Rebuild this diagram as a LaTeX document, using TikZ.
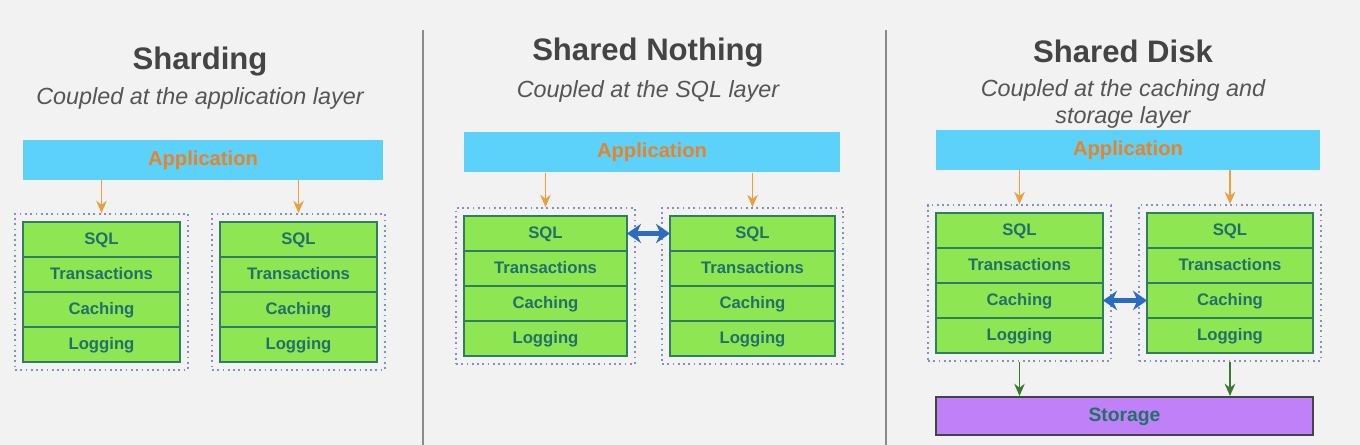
\documentclass[tikz,border=0pt]{standalone}
\usepackage{fontspec}
\setmainfont{Liberation Sans}
\usetikzlibrary{arrows.meta, positioning, fit}

\definecolor{bggray}{HTML}{F2F2F2}
\definecolor{titlegray}{HTML}{444444}
\definecolor{subgray}{HTML}{555555}
\definecolor{appblue}{HTML}{5CD1FA}
\definecolor{apporange}{HTML}{E8832A}
\definecolor{arroworange}{HTML}{E8A040}
\definecolor{layergreen}{HTML}{8FE653}
\definecolor{layerline}{HTML}{2F7D63}
\definecolor{layertext}{HTML}{22706A}
\definecolor{boxblue}{HTML}{8090C8}
\definecolor{linkblue}{HTML}{2B6CC0}
\definecolor{diskgreen}{HTML}{3A7A30}
\definecolor{storepurple}{HTML}{BF80F8}
\definecolor{sepgray}{HTML}{8A8A8A}

\tikzset{
  title/.style={font=\bfseries\fontsize{17.7}{20}\selectfont, text=titlegray},
  subtitle/.style={font=\itshape\fontsize{13.3}{15.3}\selectfont, text=subgray,
                   align=center},
  appbar/.style={fill=appblue, minimum height=0.8cm, inner sep=0pt,
                 text height=1.6ex, text depth=0.5ex,
                 font=\bfseries\fontsize{11.5}{13}\selectfont, text=apporange},
  layer/.style={draw=layerline, fill=layergreen, line width=1.1pt,
                minimum height=0.7cm, inner sep=0pt, outer sep=0pt,
                text height=1.6ex, text depth=0.5ex,
                font=\bfseries\fontsize{9.5}{11}\selectfont, text=layertext},
  nodebox/.style={draw=boxblue, line width=1pt, dash pattern=on 1pt off 2pt,
                  inner sep=0.16cm},
  appflow/.style={draw=arroworange, line width=1.1pt,
                  -{Stealth[length=7pt, width=6pt]}},
  diskflow/.style={draw=diskgreen, line width=1.1pt,
                   -{Stealth[length=7pt, width=6pt]}},
  coupling/.style={draw=linkblue, line width=2.5pt,
                   {Stealth[length=8pt, width=11pt]}-{Stealth[length=8pt, width=11pt]}},
  storebar/.style={draw=titlegray, fill=storepurple, line width=1.1pt,
                   minimum height=0.76cm, inner sep=0pt,
                   text height=1.6ex, text depth=0.5ex,
                   font=\bfseries\fontsize{11}{13}\selectfont, text=layertext}
}

% one database node: four layers and a dotted frame
\newcommand{\dbstack}[4]{%
  \node[layer, minimum width=#4, anchor=north] (#1-sql) at (#2,#3) {SQL};
  \node[layer, minimum width=#4, below=0pt of #1-sql] (#1-txn) {Transactions};
  \node[layer, minimum width=#4, below=0pt of #1-txn] (#1-cache) {Caching};
  \node[layer, minimum width=#4, below=0pt of #1-cache] (#1-log) {Logging};
  \node[nodebox, fit=(#1-sql)(#1-log)] (#1-box) {};
}

\begin{document}
\begin{tikzpicture}[x=0.02cm, y=-0.02cm]

  % canvas
  \fill[bggray] (0,0) rectangle (1360,445);
  \useasboundingbox (0,0) rectangle (1360,445);

  % panel separators
  \draw[sepgray, line width=1.2pt] (423,30) -- (423,445);
  \draw[sepgray, line width=1.2pt] (886,30) -- (886,445);

  % Sharding
  \node[title] (shd-title) at (200,62) {Sharding};
  \node[subtitle] (shd-sub) at (200,98) {Coupled at the application layer};
  \node[appbar, minimum width=7.2cm] (shd-app) at (203,160) {Application};
  \dbstack{shd-a}{101.5}{222}{3.14cm}
  \dbstack{shd-b}{298.5}{222}{3.14cm}
  \draw[appflow] (shd-app.south -| shd-a-box) -- (shd-a-box.north);
  \draw[appflow] (shd-app.south -| shd-b-box) -- (shd-b-box.north);

  % Shared Nothing
  \node[title] (snt-title) at (648,53) {Shared Nothing};
  \node[subtitle] (snt-sub) at (648,91) {Coupled at the SQL layer};
  \node[appbar, minimum width=7.52cm] (snt-app) at (652,152.5) {Application};
  \dbstack{snt-a}{545.5}{216}{3.26cm}
  \dbstack{snt-b}{752.5}{216}{3.3cm}
  \draw[appflow] (snt-app.south -| snt-a-box) -- (snt-a-box.north);
  \draw[appflow] (snt-app.south -| snt-b-box) -- (snt-b-box.north);
  \draw[coupling] (snt-a-sql.east) -- (snt-b-sql.west);

  % Shared Disk
  \node[title] (sdk-title) at (1123,51) {Shared Disk};
  \node[subtitle] (sdk-sub) at (1123,104)
    {Coupled at the caching and\\storage layer};
  \node[appbar, minimum width=7.68cm] (sdk-app) at (1128,150) {Application};
  \dbstack{sdk-a}{1019.5}{213}{3.34cm}
  \dbstack{sdk-b}{1230}{213}{3.32cm}
  \node[storebar, minimum width=7.54cm] (sdk-store) at (1124.5,416) {Storage};
  \draw[appflow] (sdk-app.south -| sdk-a-box) -- (sdk-a-box.north);
  \draw[appflow] (sdk-app.south -| sdk-b-box) -- (sdk-b-box.north);
  \draw[coupling] (sdk-a-cache.east) -- (sdk-b-cache.west);
  \draw[diskflow] (sdk-a-box.south) -- (sdk-a-box.south |- sdk-store.north);
  \draw[diskflow] (sdk-b-box.south) -- (sdk-b-box.south |- sdk-store.north);

\end{tikzpicture}
\end{document}
